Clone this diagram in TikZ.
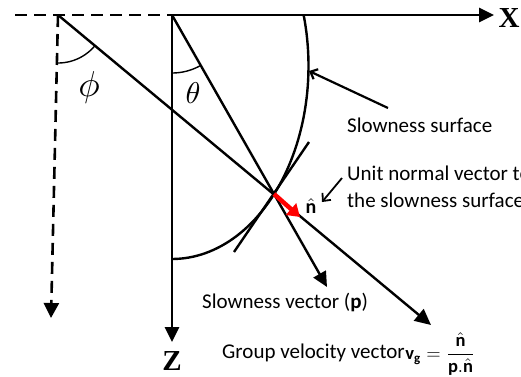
\documentclass[tikz,border=0pt]{standalone}
\usepackage{fontspec}
\setmainfont{Carlito}
\newfontfamily\tnr{Liberation Serif}
\usetikzlibrary{arrows.meta,calc}
\begin{document}
\begin{tikzpicture}[x=1pt,y=-1pt,
  axis/.style={line width=2.6pt,-{Triangle[length=15pt,width=14pt]}},
  dashaxis/.style={line width=2.6pt,dash pattern=on 12pt off 7pt},
  ray/.style={line width=2.4pt},
  thin arc/.style={line width=1.4pt},
  pointer/.style={line width=2.2pt,-{Straight Barb[length=6pt,width=11pt]}},
  lbl/.style={anchor=west,inner sep=0pt,font=\fontsize{21}{24}\selectfont},
  mathlbl/.style={inner sep=0pt,font=\fontsize{10}{12}\selectfont},
  axlbl/.style={inner sep=0pt,font=\tnr\bfseries\fontsize{29}{32}\selectfont}]
\useasboundingbox (0,0) rectangle (521,376);
% key points
\coordinate (O1) at (58,15);
\coordinate (O) at (172,15);
\coordinate (L) at (15,15);
\coordinate (P) at (274,194);
\coordinate (Xt) at (494,15);
\coordinate (Zt) at (172,342);
\coordinate (Dt) at (51,318);
\coordinate (Pt) at (327,287);
\coordinate (Gt) at (431,325);
\coordinate (Nt) at (300,217);
\coordinate (T1) at ($(P)+(35,-52)$);
\coordinate (T2) at ($(P)+(-40,58)$);
% axes
\draw[dashaxis] (L) -- (O);
\draw[axis] (O) -- (Xt);
\draw[axis] (O) -- (Zt);
\draw[dashaxis,-{Triangle[length=15pt,width=15pt]}] (O1) -- (Dt);
\node[axlbl] (X) at (509,18) {X};
\node[axlbl] (Z) at (172,361) {Z};
% rays
\draw[ray,-{Triangle[length=15pt,width=14pt]}] (O) -- (Pt);
\draw[ray,-{Triangle[length=16pt,width=15pt]}] (O1) -- (Gt);
% angle arcs
\draw[thin arc,domain=39.6:90,samples=30,variable=\t] plot ({58+48*cos(\t)},{15+48*sin(\t)});
\draw[thin arc,domain=60.3:90,samples=30,variable=\t] plot ({172+58*cos(\t)},{15+58*sin(\t)});
\node[mathlbl,scale=3.6] (phi) at (89,87) {$\phi$};
\node[mathlbl,scale=3.0] (theta) at (193,93) {$\theta$};
% slowness surface
\draw[ray,domain=-15.3:90,samples=60,variable=\t] plot ({172+136.5*cos(\t)},{66+193*sin(\t)});
% tangent
\draw[ray] (T1) -- (T2);
% normal
\draw[red,line width=4.5pt,-{Triangle[length=12pt,width=15pt]}] (P) -- (Nt);
\node[mathlbl,scale=2.0] (nh) at (311,206) {$\hat{\mathbf{n}}$};
% labels
\node[lbl] (ss) at (347,125) {Slowness surface};
\node[lbl] (un1) at (347,173) {Unit normal vector to};
\node[lbl] (un2) at (347,200) {the slowness surface};
\node[lbl] (sv) at (202,302) {Slowness vector (\textbf{p})};
\node[lbl] (gv) at (222,353) {Group velocity vector};
\node[mathlbl,anchor=west,scale=1.85] (eq) at ([yshift=-1pt]gv.east) {$\mathbf{v}_{\mathbf{g}} = \displaystyle\frac{\hat{\mathbf{n}}}{\mathbf{p}.\hat{\mathbf{n}}}$};
% pointers
\coordinate (SSa) at (388,108);
\coordinate (SSb) at (309,71);
\draw[pointer] (SSa) -- (SSb);
\coordinate (UNa) at (342,178);
\coordinate (UNb) at (322,202);
\draw[pointer,line width=1.8pt] (UNa) -- (UNb);
\end{tikzpicture}
\end{document}
